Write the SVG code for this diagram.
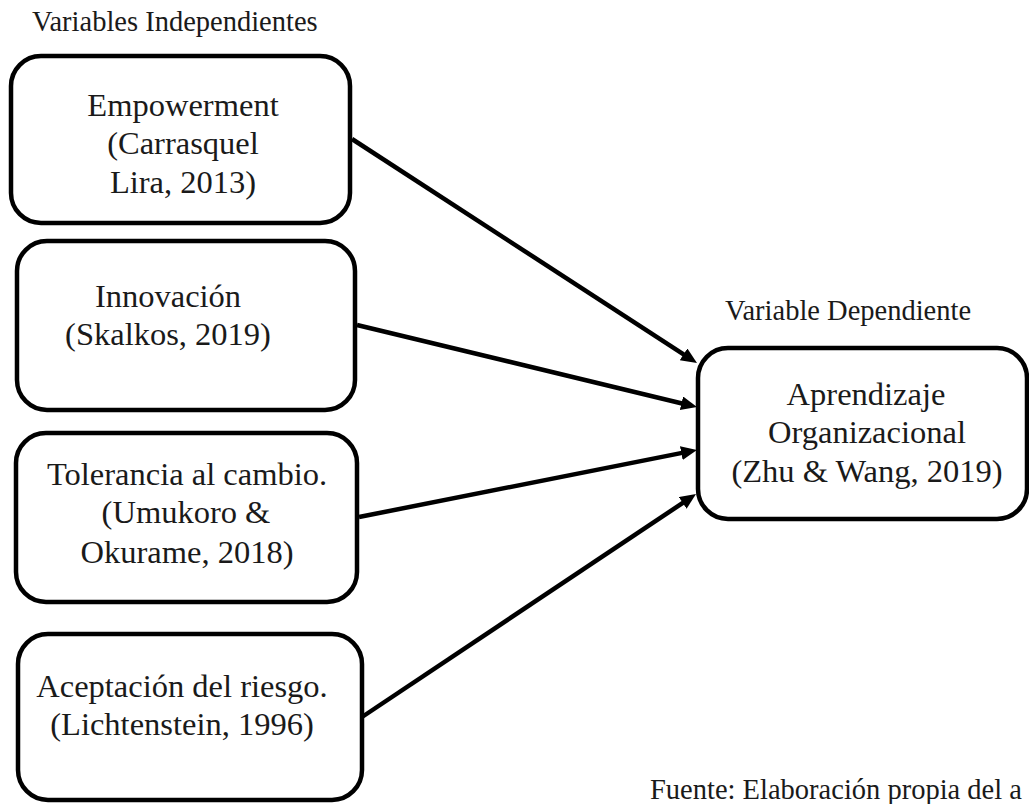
<svg xmlns="http://www.w3.org/2000/svg" width="1029" height="804" viewBox="0 0 1029 804">
<style>
.box{fill:#fff;stroke:#000;stroke-width:4.5}
.node-text{font-family:Liberation Serif,Times New Roman,serif;font-size:32.5px;fill:#1a1a1a;text-anchor:middle}
.label-text{font-family:Liberation Serif,Times New Roman,serif;font-size:28.5px;fill:#1a1a1a}
.conn{stroke:#000;stroke-width:4.5;fill:none;marker-end:url(#ah)}
</style>
<defs>
<marker id="ah" markerUnits="userSpaceOnUse" markerWidth="18" markerHeight="16" refX="6" refY="7" orient="auto">
<path d="M0,0 L16,7 L0,14 z" fill="#000"/>
</marker>
</defs>
<rect width="1029" height="804" fill="#fff"/>
<text class="label-text" x="32" y="31">Variables Independientes</text>
<text class="label-text" x="725" y="320">Variable Dependiente</text>
<text class="label-text" x="650" y="799">Fuente: Elaboración propia del a</text>
<g id="connectors">
<line class="conn" x1="352" y1="139" x2="688.6" y2="357.6"/>
<line class="conn" x1="357" y1="325" x2="687.3" y2="404.7"/>
<line class="conn" x1="359" y1="517" x2="687.2" y2="451.9"/>
<line class="conn" x1="362" y1="717" x2="687.7" y2="499.6"/>
</g>
<g id="n-empowerment">
<rect class="box" x="11" y="56" width="339" height="167" rx="30"/>
<text class="node-text" x="183" y="116">Empowerment</text>
<text class="node-text" x="183" y="154">(Carrasquel</text>
<text class="node-text" x="183" y="193">Lira, 2013)</text>
</g>
<g id="n-innovacion">
<rect class="box" x="17" y="241" width="338" height="169" rx="30"/>
<text class="node-text" x="168" y="307">Innovación</text>
<text class="node-text" x="168" y="345">(Skalkos, 2019)</text>
</g>
<g id="n-tolerancia">
<rect class="box" x="16" y="433" width="341" height="169" rx="30"/>
<text class="node-text" x="187" y="485">Tolerancia al cambio.</text>
<text class="node-text" x="186" y="523">(Umukoro &amp;</text>
<text class="node-text" x="187" y="563">Okurame, 2018)</text>
</g>
<g id="n-riesgo">
<rect class="box" x="18" y="634" width="344" height="166" rx="30"/>
<text class="node-text" x="182" y="697">Aceptación del riesgo.</text>
<text class="node-text" x="182" y="735">(Lichtenstein, 1996)</text>
</g>
<g id="n-aprendizaje">
<rect class="box" x="698" y="348" width="329" height="171" rx="30"/>
<text class="node-text" x="866" y="405">Aprendizaje</text>
<text class="node-text" x="867" y="443">Organizacional</text>
<text class="node-text" x="867" y="482">(Zhu &amp; Wang, 2019)</text>
</g>
</svg>
